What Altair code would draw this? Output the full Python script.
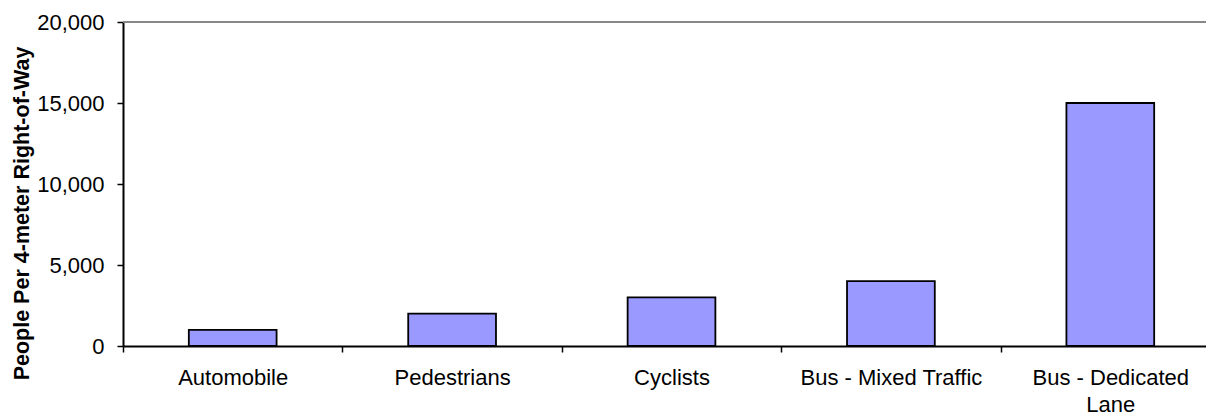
import altair as alt
import pandas as pd

categories = ["Automobile", "Pedestrians", "Cyclists", "Bus - Mixed Traffic", "Bus - Dedicated Lane"]
values = [1000, 2000, 3000, 4000, 15000]
y_ticks = [0, 5000, 10000, 15000, 20000]
y_max = 20000

df = pd.DataFrame({"mode": categories, "people": values})

FONT = "Liberation Sans"
RANGE_W = 1097
STEP = RANGE_W / 5
HALF_GAP = 0.3 * STEP      # distance from step boundary to bar edge

x_enc = alt.X(
    "mode:N",
    sort=categories,
    scale=alt.Scale(paddingInner=0.6, paddingOuter=0.3, range=[0, RANGE_W]),
    axis=alt.Axis(
        title=None,
        labelAngle=0,
        labelFont=FONT,
        labelFontSize=22,
        labelColor="black",
        labelPadding=15,
        labelLineHeight=27,
        labelLimit=0,
        labelExpr="datum.label == 'Bus - Dedicated Lane' ? ['Bus - Dedicated', 'Lane'] : datum.label",
        bandPosition=0,
        tickOffset=-HALF_GAP,
        labelOffset=HALF_GAP,
        labelBound=False,
        labelOverlap=False,
        ticks=True,
        tickSize=6,
        tickColor="black",
        tickWidth=1.5,
        domainColor="black",
        domainWidth=2,
        grid=False,
    ),
)

bars = alt.Chart(df).mark_bar(
    color="#9999FF", stroke="black", strokeWidth=1.8
).encode(
    x=x_enc,
    y=alt.Y(
        "people:Q",
        scale=alt.Scale(domain=[0, y_max], nice=False),
        axis=alt.Axis(
            title="People Per 4-meter Right-of-Way",
            titleFont=FONT,
            titleFontSize=21.5,
            titleFontWeight="bold",
            titleColor="black",
            titleAngle=270,
            titleAlign="center",
            titleBaseline="alphabetic",
            titleX=-95,
            titleY=191,
            values=y_ticks,
            format=",.0f",
            labelFont=FONT,
            labelFontSize=22,
            labelColor="black",
            labelPadding=13,
            tickSize=6,
            tickColor="black",
            tickWidth=1.5,
            domainColor="black",
            domainWidth=2,
            grid=False,
        ),
    ),
)

top_line = alt.Chart(df).mark_rule(color="#888888", strokeWidth=2).encode(
    y=alt.datum(y_max)
)

chart = alt.layer(top_line, bars).properties(
    width=1083,
    height=324,
    padding={"left": 115, "top": 14, "right": 0, "bottom": 70},
    autosize=alt.AutoSizeParams(type="none"),
).configure_view(stroke=None).configure(background="white")

chart.save("out.html", embed_options={"renderer": "svg", "actions": False})
